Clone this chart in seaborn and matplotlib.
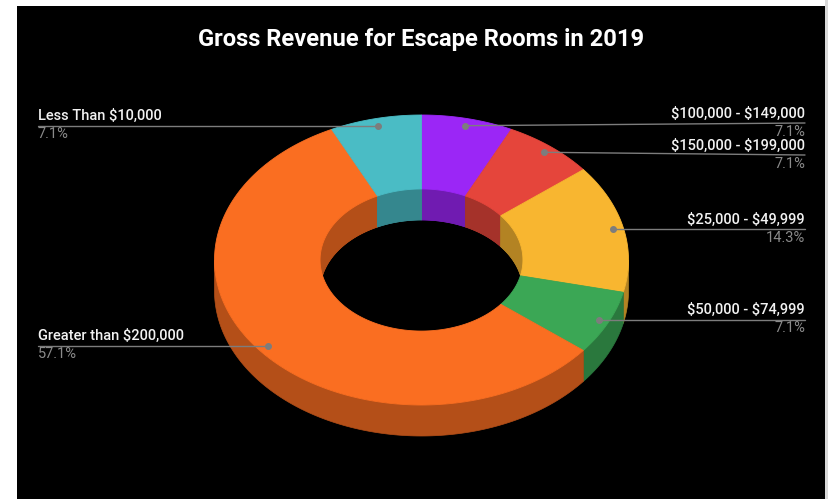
import numpy as np
import matplotlib
matplotlib.use("Agg")
import matplotlib.pyplot as plt
from matplotlib.patches import Polygon, Rectangle
import seaborn as sns

# Gross revenue brackets (number of escape rooms per bracket), clockwise from 12 o'clock
categories = ["$100,000 - $149,000", "$150,000 - $199,000", "$25,000 - $49,999",
              "$50,000 - $74,999", "Greater than $200,000", "Less Than $10,000"]
counts = [1, 1, 2, 1, 8, 1]
colors = ["#9B26F6", "#E5453B", "#F8B630", "#3BA755", "#FA6E21", "#4ABCC5"]
title = "Gross Revenue for Escape Rooms in 2019"

sns.set_theme(style="dark")
plt.rcParams["font.family"] = ["Roboto", "DejaVu Sans"]
palette = sns.color_palette(colors)

W, H = 829, 499
fig = plt.figure(figsize=(W / 100, H / 100), dpi=100, facecolor="white")
ax = fig.add_axes([0, 0, 1, 1])
ax.set_xlim(0, W)
ax.set_ylim(H, 0)
ax.axis("off")

# dark panel
ax.add_patch(Rectangle((17, 6), 808, H - 6, facecolor="black", edgecolor="none", zorder=0))
ax.add_patch(Rectangle((825, 0), 4, H, facecolor="#d9d9d9", edgecolor="none", zorder=0))

# 3D donut geometry (pixel space)
cx, cy = 421.5, 260.0
A, B = 207.0, 145.0
ri = 0.49
depth = 31.0


def pt(theta_deg, r, dz=0.0):
    t = np.radians(theta_deg)
    return cx + r * A * np.sin(t), cy - r * B * np.cos(t) + dz


def arc(t1, t2, r, dz=0.0, n=80):
    ts = np.linspace(t1, t2, max(3, int(n * abs(t2 - t1) / 60) + 3))
    xs, ys = pt(ts, r, dz)
    return np.column_stack([xs, ys])


def clip(t1, t2, ranges):
    out = []
    for a, b in ranges:
        lo, hi = max(t1, a), min(t2, b)
        if hi > lo:
            out.append((lo, hi))
    return out


def darker(c, f=0.72):
    return tuple(np.clip(np.array(c[:3]) * f, 0, 1))


total = sum(counts)
bounds = np.concatenate([[0], np.cumsum(counts)]) / total * 360.0

front = [(90, 270)]
back = [(-90, 90), (270, 450)]

# outer side walls (front half)
for i, col in enumerate(palette):
    t1, t2 = bounds[i], bounds[i + 1]
    for a, b in clip(t1, t2, front):
        poly = np.vstack([arc(a, b, 1.0), arc(b, a, 1.0, depth)])
        ax.add_patch(Polygon(poly, closed=True, facecolor=darker(col),
                             edgecolor=darker(col), lw=0.5, zorder=1))

# inner walls seen through the hole (back half)
for i, col in enumerate(palette):
    t1, t2 = bounds[i], bounds[i + 1]
    for a, b in clip(t1, t2, back) + clip(t1 + 360, t2 + 360, back) + clip(t1 - 360, t2 - 360, back):
        poly = np.vstack([arc(a, b, ri), arc(b, a, ri, depth)])
        ax.add_patch(Polygon(poly, closed=True, facecolor=darker(col),
                             edgecolor=darker(col), lw=0.5, zorder=2))

# top face
for i, col in enumerate(palette):
    t1, t2 = bounds[i], bounds[i + 1]
    poly = np.vstack([arc(t1, t2, 1.0), arc(t2, t1, ri)])
    ax.add_patch(Polygon(poly, closed=True, facecolor=col, edgecolor=col, lw=0.6, zorder=3))

# leader labels
mids = (bounds[:-1] + bounds[1:]) / 2
anchors = [pt(m, 0.95) for m in mids]
sides = ["right" if m < 180 else "left" for m in mids]

label_y = [a[1] for a in anchors]
min_gap = 32.0
for side in ("left", "right"):
    idx = sorted([i for i in range(len(mids)) if sides[i] == side], key=lambda i: label_y[i])
    for _ in range(20):
        for j in range(len(idx) - 1):
            a, b = idx[j], idx[j + 1]
            gap = label_y[b] - label_y[a]
            if gap < min_gap:
                shift = (min_gap - gap) / 2
                label_y[a] -= shift
                label_y[b] += shift

line_col = "#7d7d7d"
for i, name in enumerate(categories):
    ax_x, ax_y = anchors[i]
    ly = label_y[i]
    pct = f"{counts[i] / total * 100:.1f}%"
    if sides[i] == "right":
        xe, ha = 805, "right"
    else:
        xe, ha = 38, "left"
    ax.plot([ax_x, xe], [ax_y, ly], color=line_col, lw=1.0, zorder=4)
    ax.plot([ax_x], [ax_y], "o", color=line_col, ms=4, zorder=5)
    ax.text(xe, ly - 2.5, name, ha=ha, va="bottom", color="#f2f2f2", fontsize=10.5,
            fontweight="medium", parse_math=False, zorder=6)
    ax.text(xe, ly + 1.5, pct, ha=ha, va="top", color="#8a8a8a", fontsize=10.5,
            parse_math=False, zorder=6)

ax.text(421.5, 46, title, ha="center", va="baseline", color="white",
        fontsize=17.1, fontweight="bold", parse_math=False, zorder=6)

fig.savefig("out.png", dpi=100, facecolor="white")
